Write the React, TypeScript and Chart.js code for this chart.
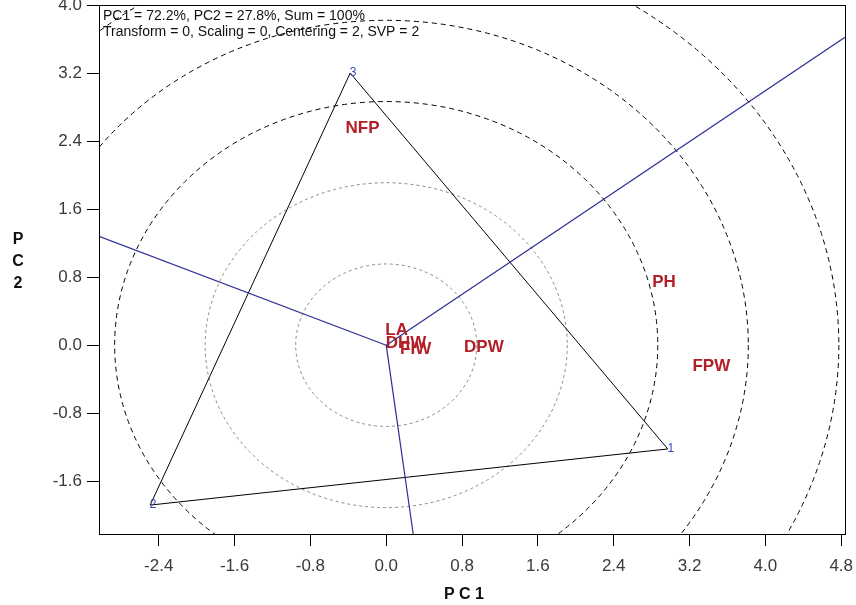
import React, { useEffect, useRef } from "react";
import { Chart, registerables } from "chart.js";

Chart.register(...registerables);

// Axis ranges and ticks
const xRange = [-3.03, 4.84];
const yRange = [-2.22, 4.0];
const xTicks = [-2.4, -1.6, -0.8, 0.0, 0.8, 1.6, 2.4, 3.2, 4.0, 4.8];
const yTicks = [-1.6, -0.8, 0.0, 0.8, 1.6, 2.4, 3.2, 4.0];

// Polygon vertices (numbered entries)
const vertexLabels = ["1", "2", "3"];
const vertexX = [2.97, -2.49, -0.38];
const vertexY = [-1.22, -1.88, 3.2];

// Trait vectors (labels)
const traitLabels = ["NFP", "PH", "FPW", "DPW", "LA", "DHW", "FIW"];
const traitX = [-0.25, 2.93, 3.43, 1.03, 0.11, 0.21, 0.31];
const traitY = [2.55, 0.74, -0.25, -0.02, 0.18, 0.02, -0.05];

// Perpendicular rays from origin (end points at plot border)
const rayEndX = [4.84, -3.03, 0.285];
const rayEndY = [3.62, 1.28, -2.22];

// Concentric circles
const circleRadii = [0.955, 1.91, 2.865, 3.82, 4.775];
const circleColors = ["#888888", "#888888", "#000000", "#000000", "#000000"];

const infoLines = [
  "PC1 = 72.2%, PC2 = 27.8%, Sum = 100%",
  "Transform = 0, Scaling = 0, Centering = 2, SVP = 2",
];

const FONT = "Arial, 'Liberation Sans', sans-serif";

const circlesPlugin = {
  id: "circles",
  beforeDatasetsDraw(chart: any) {
    const { ctx, chartArea, scales } = chart;
    const xs = scales.x;
    const ys = scales.y;
    const cx = xs.getPixelForValue(0);
    const cy = ys.getPixelForValue(0);
    ctx.save();
    ctx.beginPath();
    ctx.rect(chartArea.left, chartArea.top, chartArea.right - chartArea.left, chartArea.bottom - chartArea.top);
    ctx.clip();
    circleRadii.forEach((r, i) => {
      const rx = xs.getPixelForValue(r) - cx;
      const ry = cy - ys.getPixelForValue(r);
      ctx.beginPath();
      ctx.ellipse(cx, cy, rx, ry, 0, 0, Math.PI * 2);
      ctx.strokeStyle = circleColors[i];
      ctx.lineWidth = 1;
      ctx.setLineDash(i < 2 ? [3, 3] : [5, 4]);
      ctx.stroke();
    });
    ctx.restore();
  },
};

const textPlugin = {
  id: "texts",
  afterDatasetsDraw(chart: any) {
    const { ctx, chartArea, scales } = chart;
    const xs = scales.x;
    const ys = scales.y;
    ctx.save();
    ctx.beginPath();
    ctx.rect(chartArea.left, chartArea.top, chartArea.right - chartArea.left, chartArea.bottom - chartArea.top);
    ctx.clip();
    // trait labels
    ctx.font = `bold 17px ${FONT}`;
    ctx.fillStyle = "#b21f27";
    ctx.textAlign = "center";
    ctx.textBaseline = "middle";
    traitLabels.forEach((t, i) => {
      ctx.fillText(t, xs.getPixelForValue(traitX[i]), ys.getPixelForValue(traitY[i]));
    });
    // vertex numbers
    ctx.font = `12px ${FONT}`;
    ctx.fillStyle = "#3546c0";
    vertexLabels.forEach((t, i) => {
      ctx.fillText(t, xs.getPixelForValue(vertexX[i]) + 3, ys.getPixelForValue(vertexY[i]));
    });
    // info text
    ctx.font = `14px ${FONT}`;
    ctx.fillStyle = "#111";
    ctx.textAlign = "left";
    ctx.fillText(infoLines[0], chartArea.left + 4, chartArea.top + 11);
    ctx.fillText(infoLines[1], chartArea.left + 4, chartArea.top + 27);
    ctx.restore();

    // frame
    ctx.save();
    ctx.strokeStyle = "#000";
    ctx.lineWidth = 1;
    ctx.strokeRect(chartArea.left + 0.5, chartArea.top + 0.5, chartArea.right - chartArea.left, chartArea.bottom - chartArea.top);
    ctx.restore();

    // axis titles
    ctx.save();
    ctx.font = `bold 16px ${FONT}`;
    ctx.fillStyle = "#111";
    ctx.textAlign = "center";
    ctx.textBaseline = "middle";
    ctx.fillText("P C 1", 464, 595);
    ["P", "C", "2"].forEach((c, i) => ctx.fillText(c, 18, 240 + i * 22));
    ctx.restore();
  },
};

export default function App() {
  const ref = useRef<HTMLCanvasElement>(null);
  useEffect(() => {
    document.body.style.margin = "0";
    const tri = [2, 0, 1, 2].map((k) => ({ x: vertexX[k], y: vertexY[k] }));
    const rays = rayEndX.map((ex, i) => ({
      data: [
        { x: 0, y: 0 },
        { x: ex, y: rayEndY[i] },
      ],
      showLine: true,
      borderColor: "#2b2f95",
      borderWidth: 1.2,
      pointRadius: 0,
      clip: 0,
    }));
    const chart = new Chart(ref.current as HTMLCanvasElement, {
      type: "scatter",
      data: {
        datasets: [
          ...rays,
          {
            data: tri,
            showLine: true,
            borderColor: "#000",
            borderWidth: 1,
            pointRadius: 0,
            clip: 0,
          },
        ] as any,
      },
      options: {
        responsive: false,
        animation: false,
        events: [],
        layout: { padding: { left: 0, top: 5, right: 11, bottom: 0 } },
        plugins: { legend: { display: false }, tooltip: { enabled: false } },
        scales: {
          x: {
            type: "linear",
            min: xRange[0],
            max: xRange[1],
            afterBuildTicks: (s: any) => {
              s.ticks = xTicks.map((v) => ({ value: v }));
            },
            afterFit: (s: any) => {
              s.height = 71;
              s.paddingLeft = 0;
              s.paddingRight = 0;
            },
            ticks: {
              callback: (v: any) => Number(v).toFixed(1),
              font: { family: FONT, size: 17 },
              color: "#3a3a3a",
              padding: 10,
              maxRotation: 0,
              autoSkip: false,
            },
            grid: { drawOnChartArea: false, drawTicks: true, tickLength: 12, tickColor: "#000", tickWidth: 1 },
            border: { display: false },
          },
          y: {
            type: "linear",
            min: yRange[0],
            max: yRange[1],
            afterBuildTicks: (s: any) => {
              s.ticks = yTicks.map((v) => ({ value: v }));
            },
            afterFit: (s: any) => {
              s.width = 99;
              s.paddingTop = 0;
              s.paddingBottom = 0;
            },
            ticks: {
              callback: (v: any) => Number(v).toFixed(1),
              font: { family: FONT, size: 17 },
              color: "#3a3a3a",
              padding: 5,
              autoSkip: false,
            },
            grid: { drawOnChartArea: false, drawTicks: true, tickLength: 12, tickColor: "#000", tickWidth: 1 },
            border: { display: false },
          },
        },
      } as any,
      plugins: [circlesPlugin, textPlugin],
    });
    return () => chart.destroy();
  }, []);
  return (
    <div style={{ width: 856, height: 605, background: "#fff" }}>
      <canvas ref={ref} width={856} height={605} style={{ display: "block" }} />
    </div>
  );
}
